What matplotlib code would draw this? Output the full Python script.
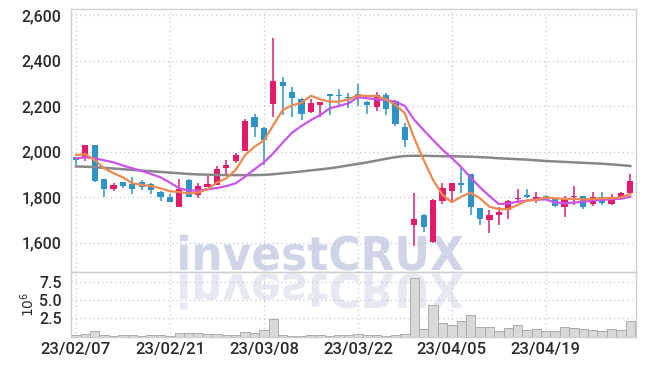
import numpy as np
import matplotlib
matplotlib.use('Agg')
from matplotlib import pyplot as plt
from matplotlib.textpath import TextPath
from matplotlib.patches import PathPatch
from matplotlib.font_manager import FontProperties
from matplotlib.transforms import Affine2D

# trading days (2023)
dates = ['23/02/07', '23/02/08', '23/02/09', '23/02/10', '23/02/13', '23/02/14', '23/02/15', '23/02/16',
         '23/02/17', '23/02/20', '23/02/21', '23/02/22', '23/02/23', '23/02/24', '23/02/27', '23/02/28',
         '23/03/02', '23/03/03', '23/03/06', '23/03/07', '23/03/08', '23/03/09', '23/03/10', '23/03/13',
         '23/03/14', '23/03/15', '23/03/16', '23/03/17', '23/03/20', '23/03/21', '23/03/22', '23/03/23',
         '23/03/24', '23/03/27', '23/03/28', '23/03/29', '23/03/30', '23/03/31', '23/04/03', '23/04/04',
         '23/04/05', '23/04/06', '23/04/07', '23/04/10', '23/04/11', '23/04/12', '23/04/13', '23/04/14',
         '23/04/17', '23/04/18', '23/04/19', '23/04/20', '23/04/21', '23/04/24', '23/04/25', '23/04/26',
         '23/04/27', '23/04/28', '23/05/02', '23/05/03']

opens = [1975, 1971, 2029, 1880, 1835, 1867, 1858, 1867, 1858, 1824,
         1802, 1758, 1876, 1811, 1845, 1854, 1930, 1959, 2004, 2151,
         2105, 2211, 2306, 2262, 2232, 2176, 2207, 2252, 2249, 2240,
         2252, 2220, 2198, 2249, 2223, 2110, 1679, 1722, 1604, 1785,
         1829, 1864, 1902, 1751, 1700, 1722, 1744, 1792, 1810, 1793,
         1805, 1795, 1758, 1800, 1805, 1769, 1802, 1770, 1802, 1817]
highs = [1978, 2030, 2030, 1880, 1861, 1867, 1887, 1874, 1862, 1826,
         1813, 1879, 1878, 1864, 1893, 1937, 1962, 1993, 2145, 2164,
         2107, 2498, 2327, 2283, 2238, 2233, 2220, 2253, 2274, 2257,
         2298, 2222, 2261, 2257, 2226, 2125, 1817, 1725, 1790, 1864,
         1863, 1937, 1904, 1752, 1744, 1756, 1788, 1837, 1835, 1822,
         1808, 1797, 1805, 1849, 1806, 1823, 1824, 1816, 1824, 1902]
lows = [1940, 1959, 1865, 1800, 1827, 1842, 1813, 1830, 1813, 1783,
        1777, 1756, 1800, 1798, 1843, 1852, 1895, 1952, 2002, 2063,
        1941, 2154, 2161, 2151, 2138, 2170, 2154, 2161, 2198, 2192,
        2201, 2166, 2179, 2161, 2113, 2019, 1587, 1646, 1600, 1770,
        1780, 1820, 1722, 1678, 1641, 1678, 1703, 1773, 1797, 1773,
        1788, 1756, 1712, 1766, 1747, 1763, 1766, 1766, 1800, 1815]
closes = [1965, 2029, 1872, 1835, 1854, 1849, 1837, 1846, 1832, 1800,
          1780, 1837, 1802, 1851, 1859, 1925, 1943, 1987, 2136, 2110,
          2050, 2311, 2290, 2237, 2164, 2213, 2218, 2246, 2245, 2236,
          2239, 2207, 2249, 2186, 2122, 2053, 1704, 1670, 1788, 1839,
          1861, 1852, 1756, 1703, 1720, 1736, 1783, 1798, 1800, 1802,
          1792, 1761, 1798, 1805, 1758, 1800, 1776, 1800, 1817, 1873]

# volume, millions
volume = [0.20, 0.33, 0.82, 0.23, 0.10, 0.23, 0.23, 0.10, 0.23, 0.20,
          0.10, 0.46, 0.46, 0.46, 0.37, 0.30, 0.20, 0.20, 0.68, 0.46,
          0.90, 2.36, 0.20, 0.10, 0.10, 0.20, 0.20, 0.15, 0.23, 0.20,
          0.30, 0.20, 0.20, 0.15, 0.23, 0.33, 7.95, 1.03, 4.30, 1.82,
          1.60, 2.10, 2.95, 1.32, 1.32, 0.73, 1.18, 1.55, 0.90, 1.05,
          0.73, 0.73, 1.32, 1.18, 1.00, 0.90, 0.73, 1.05, 0.90, 2.13]

# moving averages
ma_short = [1985, 1989, 1963, 1927, 1905, 1887, 1861, 1854, 1849, 1839,
            1826, 1823, 1817, 1820, 1835, 1864, 1883, 1920, 1985, 2022,
            2049, 2117, 2183, 2204, 2215, 2246, 2230, 2220, 2220, 2230,
            2247, 2245, 2245, 2230, 2205, 2169, 2059, 1964, 1876, 1810,
            1778, 1802, 1820, 1795, 1758, 1747, 1747, 1766, 1785, 1788,
            1799, 1795, 1792, 1792, 1790, 1792, 1795, 1795, 1800, 1813]
ma_mid = [1971, 1975, 1971, 1962, 1953, 1939, 1927, 1915, 1902, 1887,
          1864, 1839, 1829, 1829, 1835, 1840, 1849, 1861, 1890, 1923,
          1953, 1993, 2040, 2084, 2113, 2139, 2161, 2191, 2201, 2213,
          2239, 2235, 2230, 2227, 2220, 2201, 2140, 2095, 2051, 2009,
          1972, 1932, 1886, 1843, 1805, 1770, 1772, 1780, 1785, 1789,
          1790, 1776, 1773, 1776, 1780, 1785, 1788, 1791, 1793, 1802]
ma_long = [1935, 1934, 1932, 1929, 1926, 1923, 1920, 1917, 1914, 1911,
           1908, 1905, 1902, 1900, 1899, 1898, 1897, 1897, 1897, 1897,
           1898, 1901, 1905, 1909, 1913, 1918, 1922, 1927, 1933, 1940,
           1946, 1953, 1961, 1969, 1976, 1981, 1982, 1982, 1981, 1980,
           1980, 1979, 1978, 1976, 1974, 1971, 1969, 1967, 1965, 1962,
           1959, 1957, 1955, 1953, 1951, 1949, 1947, 1944, 1941, 1937]

price_ticks = [1600, 1800, 2000, 2200, 2400, 2600]
vol_ticks = [2.5, 5.0, 7.5]
label_step = 10

UP = '#e31b6d'
DOWN = '#2e93c6'
GRID = '#c3c7da'
SPINE = '#cfcfcf'
TXT = '#2b2b2b'

plt.rcParams['font.family'] = ['Roboto', 'DejaVu Sans']
plt.rcParams['font.weight'] = 'medium'

W, H = 645, 366
fig = plt.figure(figsize=(W/100, H/100), dpi=100)
fig.patch.set_facecolor('white')

# watermark layer (pixel coords, y from top)
bg = fig.add_axes([0, 0, 1, 1], zorder=0)
bg.set_xlim(0, W)
bg.set_ylim(H, 0)
bg.axis('off')
tp = TextPath((0, 0), 'investCRUX', size=100,
              prop=FontProperties(family='DejaVu Sans', weight='bold'))
ext = tp.get_extents()
sx = (463 - 180) / ext.width
sy = (270 - 234) / ext.height
main_tr = Affine2D().translate(-ext.x0, 0).scale(sx, -sy).translate(180, 270)
refl_tr = Affine2D().translate(-ext.x0, 0).scale(sx, sy).translate(180, 274)
bg.add_patch(PathPatch(main_tr.transform_path(tp), fc='#cfd5e7', ec='none', lw=0))
bg.add_patch(PathPatch(refl_tr.transform_path(tp), fc='#e6e9f1', ec='none', lw=0))

left, right = 71.3 / W, 636 / W
p_top, p_bot = 9.3, 272
v_bot = 336.7
ax = fig.add_axes([left, 1 - p_bot / H, right - left, (p_bot - p_top) / H], zorder=1)
axv = fig.add_axes([left, 1 - v_bot / H, right - left, (v_bot - p_bot) / H], zorder=1, sharex=ax)

n = len(closes)
x = np.arange(n)
for a in (ax, axv):
    a.set_facecolor('none')
    for s in a.spines.values():
        s.set_color(SPINE)
        s.set_linewidth(1.0)
    a.tick_params(length=0, colors=TXT, labelsize=11.5, pad=7)
    a.grid(True, color=GRID, linestyle=(0, (1, 2.5)), linewidth=0.9)
    a.set_axisbelow(True)

# candles
colors = [UP if c >= o else DOWN for o, c in zip(opens, closes)]
ax.vlines(x, lows, highs, colors=colors, linewidth=1.1, zorder=2)
body_lo = np.minimum(opens, closes)
body_h = np.maximum(np.abs(np.array(closes) - np.array(opens)), 3)
ax.bar(x, body_h, bottom=body_lo, width=0.66, color=colors, linewidth=0, zorder=3)

ax.plot(x, ma_long, color='#878787', linewidth=1.8, zorder=4)
ax.plot(x, ma_mid, color='#c955ec', linewidth=1.6, zorder=4)
ax.plot(x, ma_short, color='#ef8a4f', linewidth=1.6, zorder=5)

ax.set_xlim(-0.5, 59.6)
ax.set_ylim(1471, 2626)
ax.set_yticks(price_ticks)
ax.set_yticklabels([f'{t:,}' for t in price_ticks])
ax.set_xticks(x[::label_step])
ax.tick_params(axis='x', labelbottom=False)

# volume
axv.bar(x, volume, width=1.0, color='#d9d9d9', edgecolor='#ababab', linewidth=0.7, zorder=2)
axv.set_ylim(0, 8.8)
axv.set_yticks(vol_ticks)
axv.set_yticklabels([f'{t:.1f}' for t in vol_ticks])
axv.set_xticks(x[::label_step])
axv.set_xticklabels(dates[::label_step])
axv.tick_params(axis='x', labelsize=12, pad=4)
axv.set_ylabel('$10^6$', color=TXT, fontsize=10)
axv.yaxis.set_label_coords(-0.061, 0.5)

fig.savefig('out.png', dpi=100, facecolor='white')
